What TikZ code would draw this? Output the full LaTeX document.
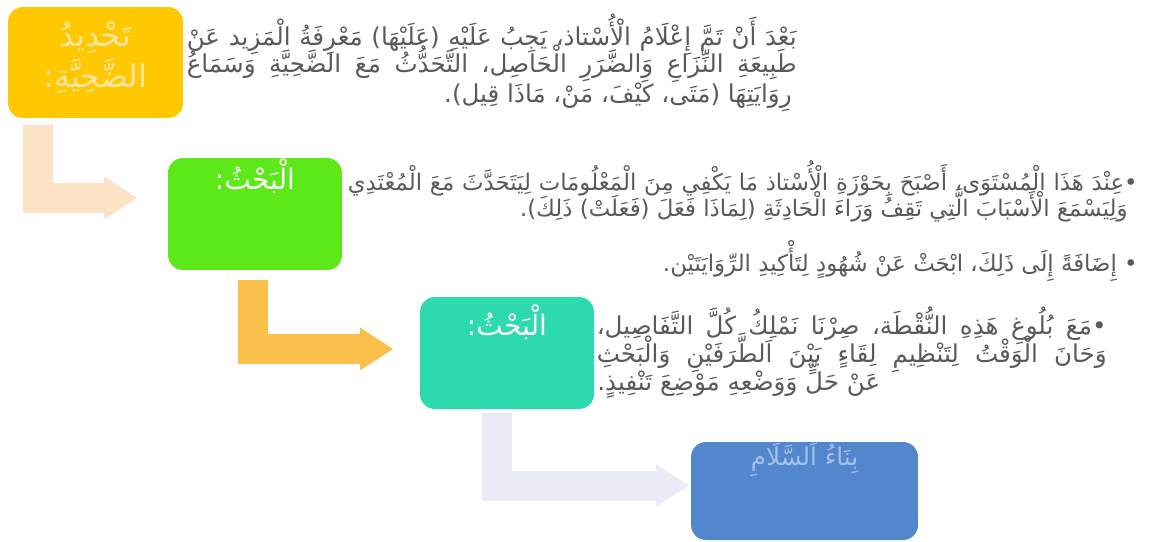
\documentclass[tikz,border=0pt]{standalone}
\usepackage{fontspec}
\usepackage{xcolor}
\usetikzlibrary{arrows.meta,positioning}
\TeXXeTstate=1
\newfontfamily\arabicfont[Script=Arabic]{DejaVu Sans}
\definecolor{ylwcl}{HTML}{FFC800}
\definecolor{grncl}{HTML}{5DE81A}
\definecolor{tealcl}{HTML}{2DD9AE}
\definecolor{bluecl}{HTML}{5287CE}
\definecolor{peachcl}{HTML}{FDE3C6}
\definecolor{orngcl}{HTML}{FBBF4B}
\definecolor{lavcl}{HTML}{E9ECF6}
\definecolor{txtcl}{HTML}{5A5A5A}
\definecolor{creamcl}{HTML}{FFE6A0}
\definecolor{lbluecl}{HTML}{A5C0E8}
\tikzset{
    boxsty/.style={fill=#1,rectangle,rounded corners=0.3cm,inner sep=0pt},
    ttlsty/.style={inner sep=0pt,anchor=north,align=center,font=\arabicfont\fontsize{16}{19}\selectfont},
    txtsty/.style={inner sep=0pt,text=txtcl,font=\arabicfont\fontsize{13}{15}\selectfont},
    bigtxtsty/.style={txtsty,font=\arabicfont\fontsize{14}{17}\selectfont},
    arwsty/.style={draw=#1,line width=0.6cm,line join=miter,
        -{Triangle[length=0.66cm,width=0.86cm,line width=0pt]}},
}

\begin{document}
\begin{tikzpicture}[x=0.02cm,y=-0.02cm]
  \useasboundingbox (0,0) rectangle (1151,541);

  % boxes
  \node[boxsty=ylwcl,minimum width=3.5cm,minimum height=2.22cm] (hdr) at (95.5,62.5) {};
  \node[boxsty=grncl,minimum width=3.48cm,minimum height=2.24cm] (srch) at (255,214) {};
  \node[boxsty=tealcl,minimum width=3.48cm,minimum height=2.24cm] (meet) at (507,353) {};
  \node[boxsty=bluecl,minimum width=4.54cm,minimum height=1.96cm] (peace) at (804.5,491) {};

  \node[ttlsty,text=creamcl,font=\arabicfont\fontsize{18}{23}\selectfont] (hdrttl) at ([yshift=-0.3cm]hdr.north)
    {\beginR تَحْدِيدُ\endR\\\beginR الضَّحِيَّةِ:\endR};
  \node[ttlsty,text=white] (srchttl) at ([yshift=-0.02cm]srch.north) {\beginR الْبَحْثُ:\endR};
  \node[ttlsty,text=white] (meetttl) at ([yshift=-0.16cm]meet.north) {\beginR الْبَحْثُ:\endR};
  \node[ttlsty,text=lbluecl,font=\arabicfont\fontsize{14}{16}\selectfont] (peacettl) at ([yshift=-0.02cm]peace.north) {\beginR بِنَاءُ اَلسَّلَامِ\endR};

  % arrows
  \coordinate (arwa) at (38,125);
  \coordinate (arwb) at (137,198);
  \coordinate (arwc) at (252.5,280);
  \coordinate (arwd) at (393,349);
  \coordinate (arwe) at (496.5,413);
  \coordinate (arwf) at (689,485.5);
  \draw[arwsty=peachcl] (arwa) |- (arwb);
  \draw[arwsty=orngcl] (arwc) |- (arwd);
  \draw[arwsty=lavcl] (arwe) |- (arwf);

  % text
  \node[bigtxtsty,anchor=east] (hdra) at (797,35) {\hbox to 12.2cm{\beginR بَعْدَ أَنْ تَمَّ إِعْلَامُ الْأُسْتاذ، يَجِبُ عَلَيْهِ (عَلَيْهَا) مَعْرِفَةُ الْمَزِيد عَنْ\endR}};
  \node[bigtxtsty,anchor=east] (hdrb) at (797,64) {\hbox to 12.2cm{\beginR طَبِيعَةِ النِّزَاعِ وَالضَّرَرِ الْحَاصِل، التَّحَدُّثُ مَعَ الضَّحِيَّةِ وَسَمَاعُ\endR}};
  \node[bigtxtsty,anchor=east] (hdrc) at (792,96) {\beginR رِوَايَتِهَا (مَتَى، كَيْفَ، مَنْ، مَاذَا قِيل).\endR};

  \node[txtsty,anchor=east] (srcha) at (1138,179) {\hbox to 15.8cm{\beginR •عِنْدَ هَذَا الْمُسْتَوَى، أَصْبَحَ بِحَوْزَةِ الْأُسْتاذ مَا يَكْفِي مِنَ الْمَعْلُومَات لِيَتَحَدَّثَ مَعَ الْمُعْتَدِي\endR}};
  \node[txtsty,anchor=east] (srchb) at (1128,205) {\beginR وَلِيَسْمَعَ الْأَسْبَابَ الَّتِي تَقِفُ وَرَاءَ الْحَادِثَةِ (لِمَاذَا فَعَلَ (فَعَلَتْ) ذَلِكَ).\endR};
  \node[txtsty,anchor=east] (srchc) at (1138,261) {\beginR • إِضَافَةً إِلَى ذَلِكَ، ابْحَثْ عَنْ شُهُودٍ لِتَأْكِيدِ الرِّوَايَتَيْن.\endR};

  \node[bigtxtsty,anchor=east] (meeta) at (1107,326) {\hbox to 10.2cm{\beginR •مَعَ بُلُوغِ هَذِهِ النُّقْطَة، صِرْنَا نَمْلِكُ كُلَّ التَّفَاصِيل،\endR}};
  \node[bigtxtsty,anchor=east] (meetb) at (1107,353) {\hbox to 10.2cm{\beginR وَحَانَ الْوَقْتُ لِتَنْظِيمِ لِقَاءٍ بَيْنَ اَلطَّرَفَيْنِ وَالْبَحْثِ\endR}};
  \node[bigtxtsty,anchor=west] (meetc) at (597,380) {\beginR عَنْ حَلٍّ وَوَضْعِهِ مَوْضِعَ تَنْفِيذٍ.\endR};
\end{tikzpicture}
\end{document}
